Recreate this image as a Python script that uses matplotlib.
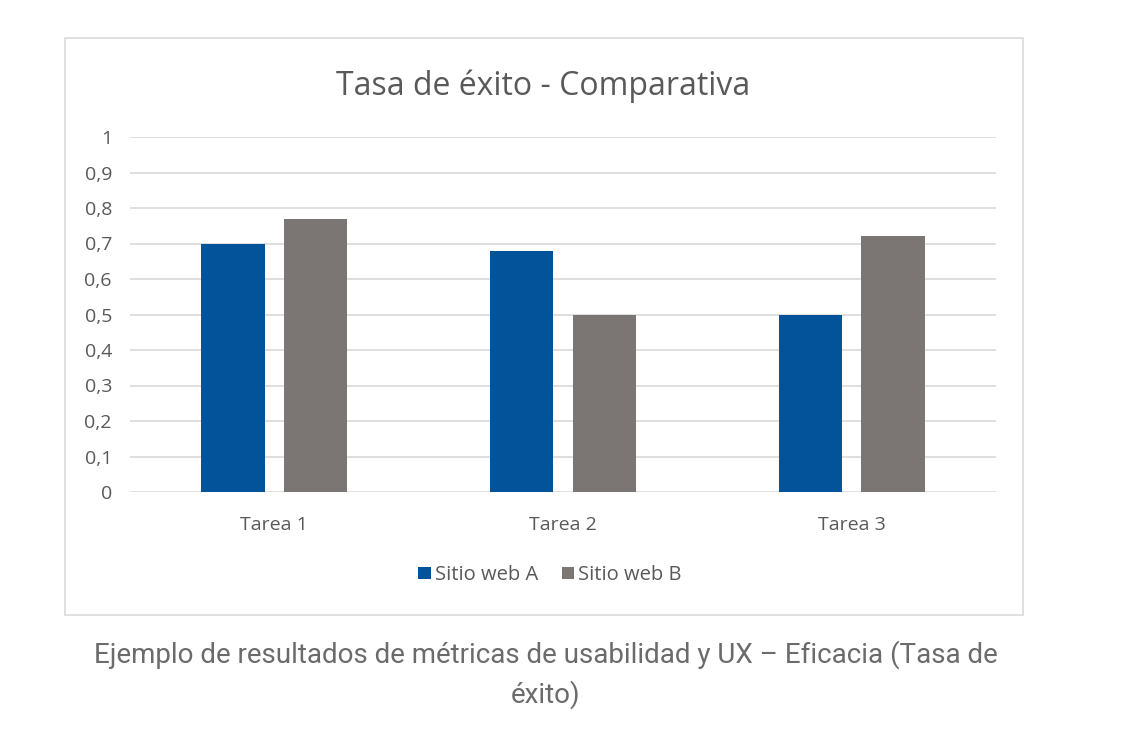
import matplotlib
matplotlib.use("Agg")
import matplotlib.pyplot as plt
from matplotlib.patches import Rectangle
import numpy as np

categories = ["Tarea 1", "Tarea 2", "Tarea 3"]
series_names = ["Sitio web A", "Sitio web B"]
sitio_a = [0.70, 0.68, 0.50]
sitio_b = [0.77, 0.50, 0.72]
yticks = [0, 0.1, 0.2, 0.3, 0.4, 0.5, 0.6, 0.7, 0.8, 0.9, 1]
ytick_labels = ["0", "0,1", "0,2", "0,3", "0,4", "0,5", "0,6", "0,7", "0,8", "0,9", "1"]
title = "Tasa de éxito - Comparativa"
caption = "Ejemplo de resultados de métricas de usabilidad y UX – Eficacia (Tasa de\néxito)"

color_a = "#03539B"
color_b = "#7B7574"
text_gray = "#595959"
grid_gray = "#D9D9D9"

W, H = 1124, 740
fig = plt.figure(figsize=(W / 100, H / 100), dpi=100)
fig.patch.set_facecolor("white")
plt.rcParams['font.family'] = ['Open Sans', 'DejaVu Sans']

# chart box
fig.patches.append(Rectangle((65 / W, 1 - 615 / H), (1023 - 65) / W, (615 - 38) / H,
                             transform=fig.transFigure, fill=False,
                             edgecolor="#DADADA", linewidth=1.2))

ax = fig.add_axes([130 / W, 1 - 492 / H, (996 - 130) / W, (492 - 137) / H])
x = np.arange(len(categories))
bw = 0.22
gap = 0.066
ax.bar(x - (bw + gap) / 2, sitio_a, bw, color=color_a, label=series_names[0], zorder=3)
ax.bar(x + (bw + gap) / 2, sitio_b, bw, color=color_b, label=series_names[1], zorder=3)
ax.set_xlim(-0.5, 2.5)
ax.set_ylim(0, 1)
ax.set_yticks(yticks)
ax.set_yticklabels(ytick_labels)
ax.set_xticks(x)
ax.set_xticklabels(categories)
ax.tick_params(axis="both", length=0, labelsize=14, colors=text_gray)
ax.tick_params(axis="y", pad=13)
ax.tick_params(axis="x", pad=17)
for s in ax.spines.values():
    s.set_visible(False)
ax.grid(axis="y", color=grid_gray, linewidth=1.2, zorder=0)
ax.set_axisbelow(True)

fig.text(543 / W, 1 - 86 / H, title, ha="center", va="center", fontsize=23, color=text_gray)

leg = fig.legend(loc="center", bbox_to_anchor=(550 / W, 1 - 575 / H), ncol=2, frameon=False,
                 fontsize=14.5, handlelength=0.6, handleheight=0.6, handletextpad=0.2,
                 columnspacing=1.2)
for t in leg.get_texts():
    t.set_color(text_gray)

fig.text(546 / W, 1 - 675 / H, caption, ha="center", va="center", fontsize=20,
         color="#6B6B6B", linespacing=1.5, family=["Roboto", "DejaVu Sans"])

fig.savefig("out.png", dpi=100, facecolor="white")
